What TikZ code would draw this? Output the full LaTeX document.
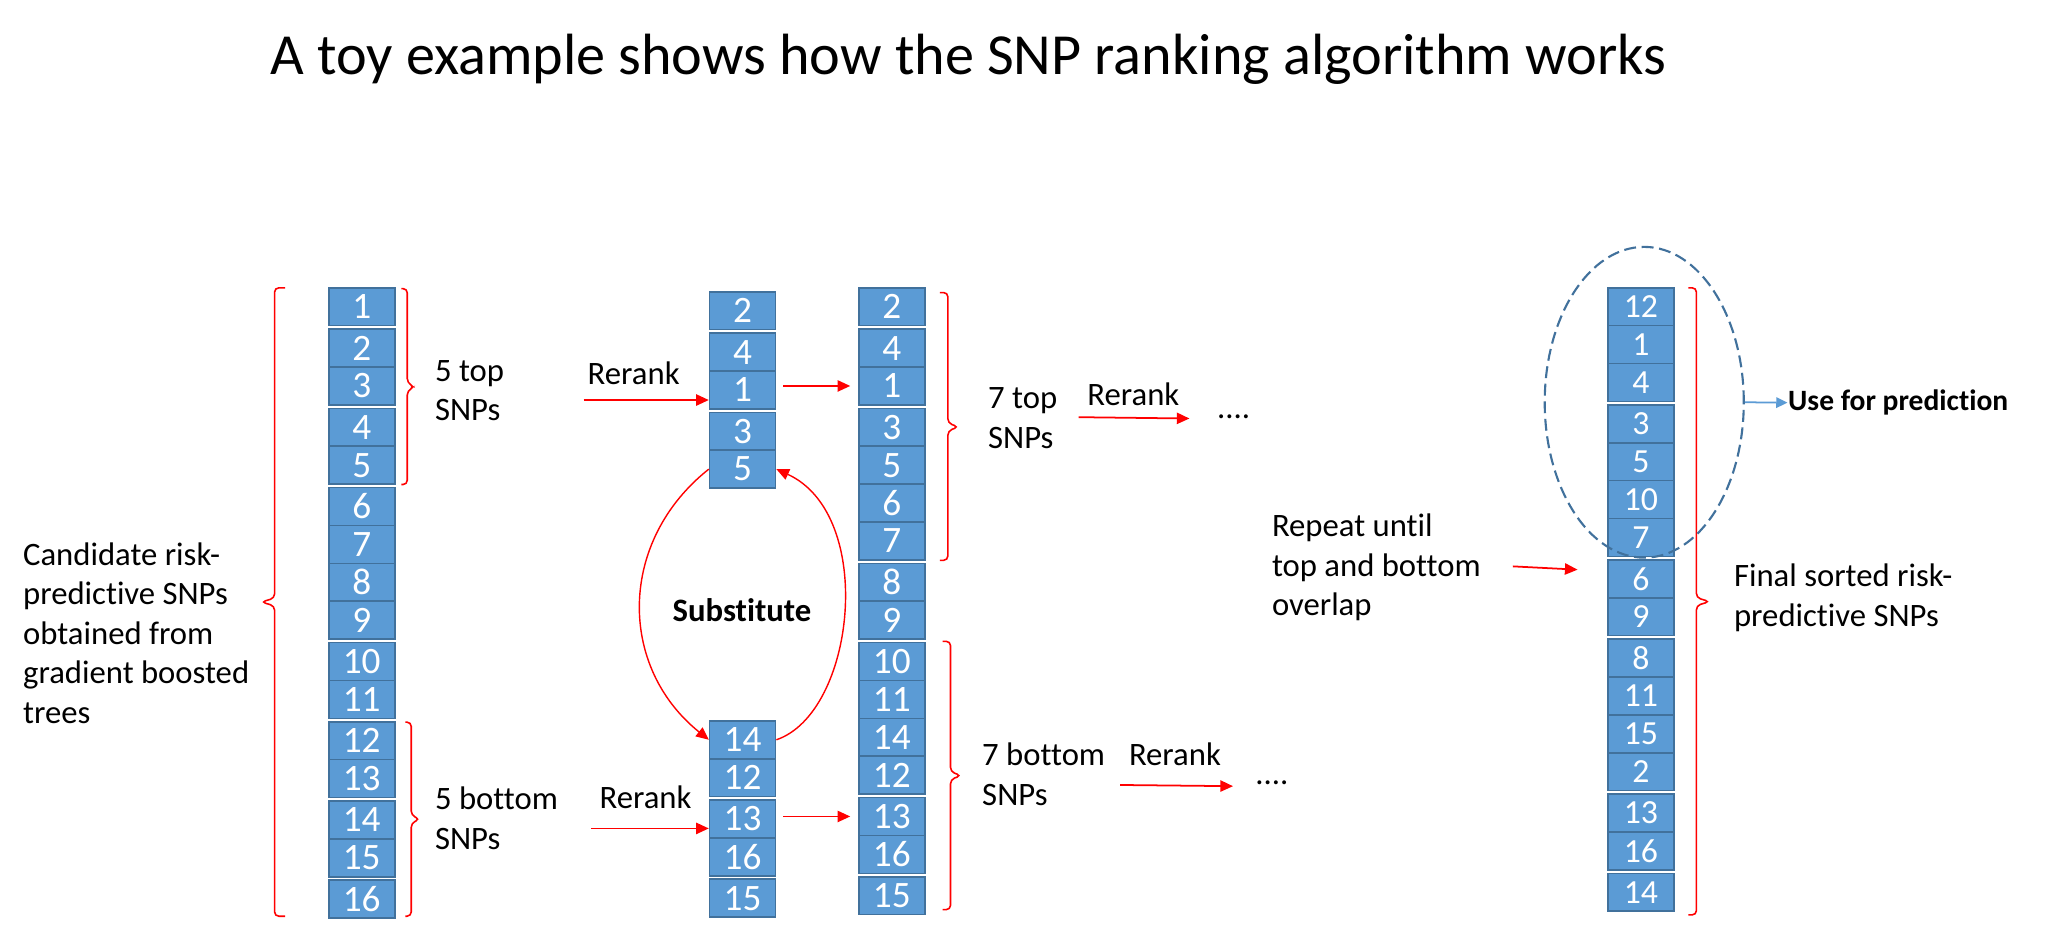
\documentclass[tikz,border=0pt]{standalone}
\usepackage{fontspec}
\setmainfont{Carlito}[Ligatures={NoCommon}]
\usetikzlibrary{arrows.meta,shapes.geometric}
\definecolor{cellfill}{HTML}{5B9BD5}
\definecolor{celldraw}{HTML}{41719C}
\definecolor{ptred}{HTML}{FF0000}
\tikzset{
  cell/.style={rectangle, draw=celldraw, fill=cellfill, line width=0.45pt, text=white,
    minimum width=50*0.013202cm, inner sep=0pt},
  txt/.style={align=left, font=\fontsize{9.3}{11.27}\selectfont, inner sep=0pt},
  redarrow/.style={draw=ptred, line width=0.5pt, -{Triangle[length=3.6pt,width=3.2pt]}},
  redcurve/.style={draw=ptred, line width=0.4pt, -{Triangle[length=3.6pt,width=3.2pt]}},
  bluearrow/.style={draw=cellfill, line width=0.5pt, -{Triangle[length=3.2pt,width=3pt]}},
  bracestyle/.style={draw=ptred, line width=0.45pt, rounded corners=1.2pt},
}
\newcommand\snpcol[6]{%
  \xdef\snpy{#3}%
  \foreach \n/\g [count=\i] in {#6}{%
    \pgfmathsetmacro\yy{\snpy+\g*2.6}%
    \pgfmathsetmacro\yc{\yy+#4/2}%
    \node[cell, minimum height={#4*0.013202cm}, font=\fontsize{#5}{#5}\selectfont] (#1-\i) at (#2,\yc) {\n};%
    \pgfmathsetmacro\ny{\yy+#4}%
    \xdef\snpy{\ny}%
  }%
}
\newcommand\pbrace[6]{%
  \draw[bracestyle] (#1,#4) -- (#2,#4) -- (#2,#5-3) -- (#3,#5) -- (#2,#5+3) -- (#2,#6) -- (#1,#6);%
}
\begin{document}
\begin{tikzpicture}[x=0.013202cm, y=-0.013202cm]
\fill[white] (0,0) rectangle (1568,713);
\useasboundingbox (0,0) rectangle (1568,713);

% title
\node[inner sep=0pt, font=\fontsize{16.55}{19}\selectfont] (title) at (733.5,45)
  {A toy example shows how the SNP ranking algorithm works};

% columns
\snpcol{c1}{274}{218}{28.7}{10.6}{1/0,2/1,3/0,4/1,5/0,6/1,7/0,8/0,9/0,10/1,11/0,12/1,13/0,14/1,15/0,16/1}
\snpcol{c2t}{562.5}{221}{28.7}{10.6}{2/0,4/1,1/0,3/1,5/0}
\snpcol{c2b}{562.5}{546}{28.7}{10.6}{14/0,12/0,13/1,16/0,15/1}
\snpcol{c3}{675.5}{218}{28.7}{10.6}{2/0,4/1,1/0,3/1,5/0,6/0,7/0,8/1,9/0,10/1,11/0,14/0,12/0,13/1,16/0,15/1}
\snpcol{c4}{1243}{218}{28.7}{9.6}{12/0,1/0,4/0,3/1,5/0,10/0,7/0,6/1,9/0,8/1,11/0,15/0,2/0,13/1,16/0,14/1}

% braces
\pbrace{216}{208}{198}{218}{456}{694}
\pbrace{304}{308.5}{314}{218.6}{293}{367}
\pbrace{307}{311.5}{318}{547}{620.5}{694}
\pbrace{712}{718}{726}{221.6}{323.4}{424.4}
\pbrace{714}{720}{728}{485.8}{587.5}{689}
\pbrace{1279}{1285}{1295}{218}{455.7}{693}

% texts
\node[txt, anchor=west] (cand) at (17,479.5)
  {Candidate risk-\\predictive SNPs\\obtained from\\gradient boosted\\trees};
\node[txt, anchor=west] (top5) at (329,296) {5 top\\SNPs};
\node[txt, anchor=west] (bot5) at (329,620) {5 bottom\\SNPs};
\node[txt] (rr1) at (480,283) {Rerank};
\node[txt] (rr2) at (489,603.6) {Rerank};
\node[txt, anchor=west] (top7) at (748,316.7) {7 top\\SNPs};
\node[txt, anchor=west] (bot7) at (743.5,586.5) {7 bottom\\SNPs};
\node[txt] (rr3) at (858.5,298.5) {Rerank};
\node[txt] (rr4) at (890,571) {Rerank};
\node[txt] (dots1) at (934.5,316) {....};
\node[txt] (dots2) at (963.5,593) {....};
\node[txt, anchor=west] (rep) at (963,429.7) {Repeat until\\top and bottom\\overlap};
\node[txt, anchor=west] (fin) at (1313,452.8) {Final sorted risk-\\predictive SNPs};
\node[inner sep=0pt, font=\fontsize{9.3}{11}\selectfont\bfseries] (subst) at (562,462) {Substitute};

% rerank arrows
\coordinate (rrA) at (442,303);
\draw[redarrow] (rrA) -- (c2t-3.west |- rrA);
\coordinate (rrB) at (448,627.5);
\draw[redarrow] (rrB) -- (c2b-3.west |- rrB);
\draw[redarrow, shorten <=2pt, shorten >=2.2pt] (c2t-3.east |- c3-3.west) -- (c3-3.west);
\draw[redarrow, shorten <=2pt, shorten >=2.2pt] (c2b-3.east |- c3-14.west) -- (c3-14.west);
\coordinate (rrCs) at (817,316);
\coordinate (rrCe) at (901,317);
\draw[redarrow] (rrCs) -- (rrCe);
\coordinate (rrDs) at (848.5,594.6);
\coordinate (rrDe) at (934,595.5);
\draw[redarrow] (rrDs) -- (rrDe);
\coordinate (rpS) at (1146,429);
\coordinate (rpE) at (1195,431.5);
\draw[redarrow] (rpS) -- (rpE);

% substitute loop
\draw[redcurve] (c2t-5.west) .. controls (468,410) and (468,505) .. (c2b-1.west);
\draw[redcurve] (c2b-1.east) .. controls (648,540) and (664,390) .. (c2t-5.east);

% selection ellipse
\node[ellipse, draw=celldraw, line width=0.6pt, dash pattern=on 3.4pt off 1.6pt,
  minimum width=150.8*0.013202cm, minimum height=235.4*0.013202cm, inner sep=0pt] (sel) at (1245.5,304.7) {};
\node[anchor=west, inner sep=0pt, font=\fontsize{8.4}{10}\selectfont\bfseries] (usep) at (1354,305) {Use for prediction};
\draw[bluearrow] (sel.east) -- (usep.west);
\end{tikzpicture}
\end{document}
